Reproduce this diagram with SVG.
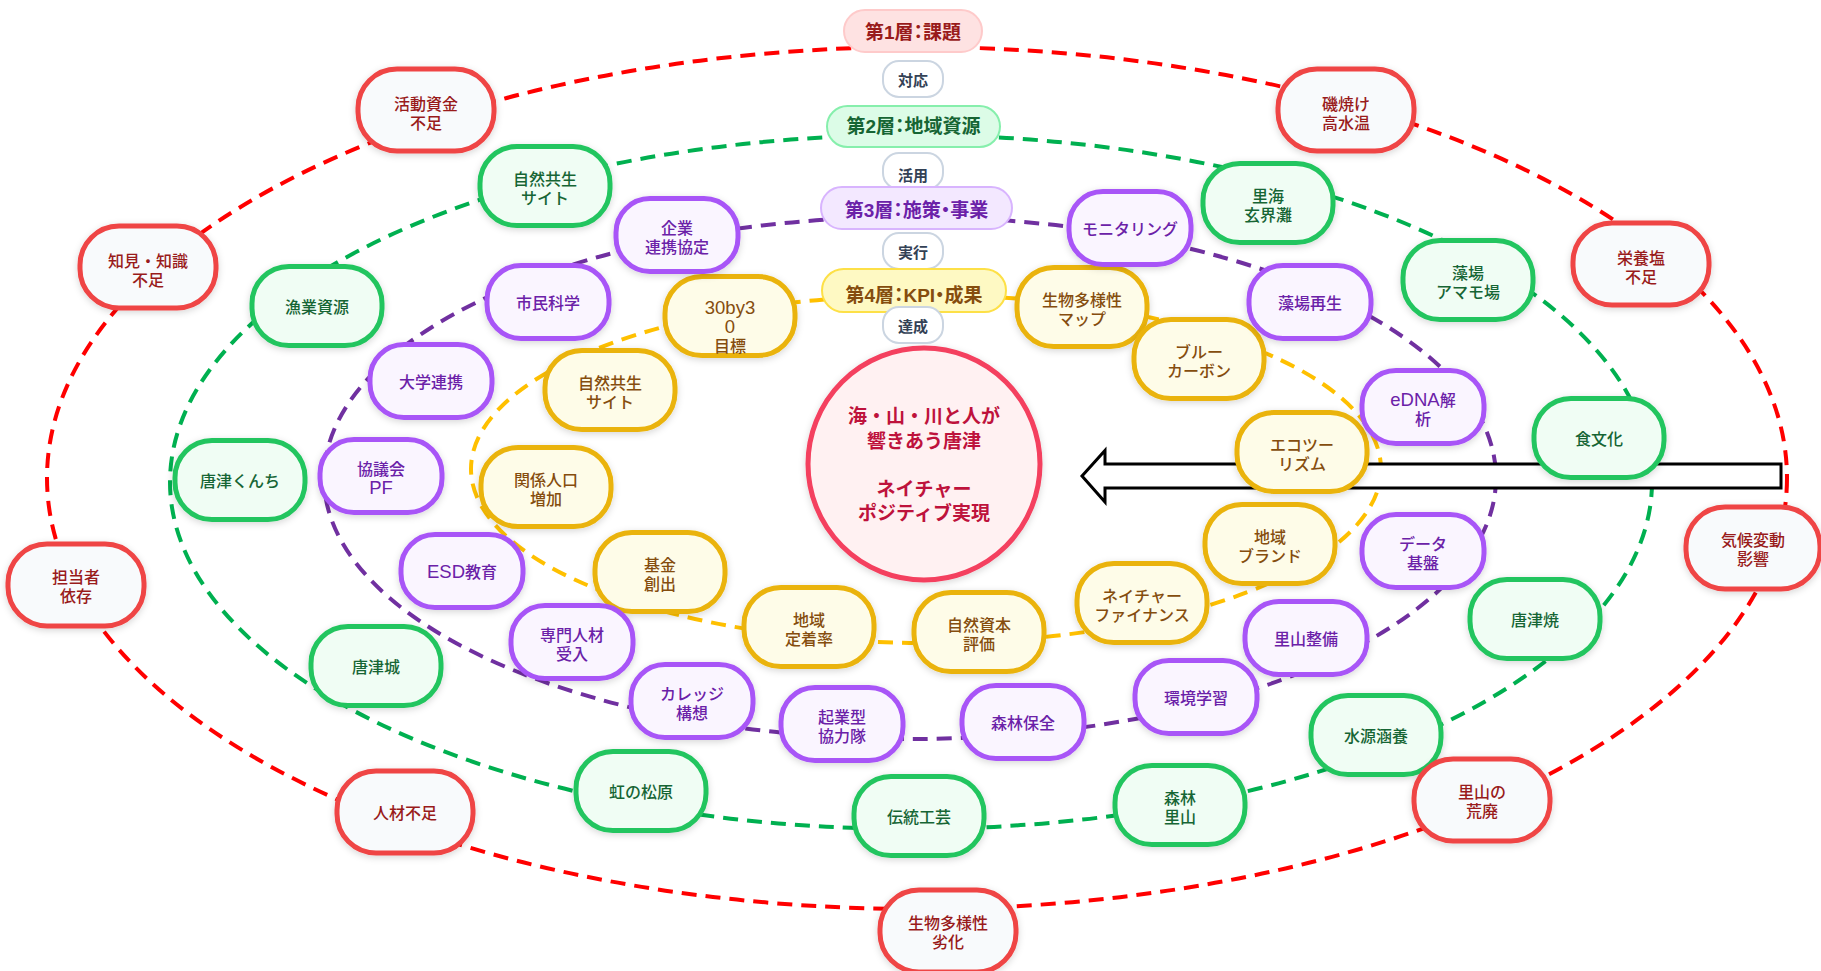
<svg xmlns="http://www.w3.org/2000/svg" width="1821" height="971" viewBox="0 0 1821 971">
<defs>
<filter id="sh" x="-25%" y="-25%" width="150%" height="160%">
<feDropShadow dx="0" dy="2" stdDeviation="3.5" flood-color="#000" flood-opacity="0.16"/>
</filter>
<style>
text{font-family:"Liberation Sans","Noto Sans CJK JP",sans-serif;text-anchor:middle}
.ring{fill:none;stroke-width:4;stroke-dasharray:15 9}
.r1{stroke:#ff0000}.r2{stroke:#00b050}.r3{stroke:#7030a0}.r4{stroke:#ffc000}
.n rect{stroke-width:5;filter:url(#sh)}
.n text{font-size:16px;font-weight:500}
.n .lat{font-size:18.5px}
.red rect{fill:#f8fafc;stroke:#ef4444}.red text{fill:#991b1b}
.grn rect{fill:#f0fdf4;stroke:#22c55e}.grn text{fill:#166534}
.pur rect{fill:#faf5ff;stroke:#a855f7}.pur text{fill:#6b21a8}
.yel rect{fill:#fefce8;stroke:#eab308}.yel text{fill:#854d0e}
.lab rect{stroke-width:2}
.lab text{font-size:19px;font-weight:700;font-feature-settings:"palt"}
.sm rect{fill:#ffffff;stroke:#cbd5e1;stroke-width:2}
.sm text{font-size:15px;font-weight:600;fill:#334155}
</style>
</defs>
<rect width="1821" height="971" fill="#ffffff"/>
<g id="connectors">
<ellipse class="ring r1" cx="917" cy="478" rx="870" ry="431"/>
<ellipse class="ring r2" cx="911" cy="482" rx="741" ry="347"/>
<ellipse class="ring r3" cx="910" cy="478" rx="586" ry="261"/>
<ellipse class="ring r4" cx="926" cy="469" rx="455" ry="174"/>
<polygon id="arrow" points="1082,476 1105,450.5 1105,464 1781,464 1781,488 1105,488 1105,502" fill="#ffffff" stroke="#000000" stroke-width="3"/>
</g>
<g id="layer4">
<g id="y1" class="n yel"><rect x="665" y="276.5" width="130" height="79" rx="37"/><text><tspan class="lat" x="730" y="314">30by3</tspan><tspan class="lat" x="730" y="333">0</tspan><tspan x="730" y="352">目標</tspan></text></g>
<g id="y2" class="n yel"><rect x="1017" y="267.5" width="130" height="79" rx="37"/><text><tspan x="1082" y="305.5">生物多様性</tspan><tspan x="1082" y="324.5">マップ</tspan></text></g>
<g id="y3" class="n yel"><rect x="545" y="350.5" width="130" height="79" rx="37"/><text><tspan x="610" y="388.5">自然共生</tspan><tspan x="610" y="407.5">サイト</tspan></text></g>
<g id="y4" class="n yel"><rect x="1134" y="319.5" width="130" height="79" rx="37"/><text><tspan x="1199" y="357.5">ブルー</tspan><tspan x="1199" y="376.5">カーボン</tspan></text></g>
<g id="y5" class="n yel"><rect x="481" y="447.5" width="130" height="79" rx="37"/><text><tspan x="546" y="485.5">関係人口</tspan><tspan x="546" y="504.5">増加</tspan></text></g>
<g id="y6" class="n yel"><rect x="1237" y="412.5" width="130" height="79" rx="37"/><text><tspan x="1302" y="450.5">エコツー</tspan><tspan x="1302" y="469.5">リズム</tspan></text></g>
<g id="y7" class="n yel"><rect x="1205" y="504.5" width="130" height="79" rx="37"/><text><tspan x="1270" y="542.5">地域</tspan><tspan x="1270" y="561.5">ブランド</tspan></text></g>
<g id="y8" class="n yel"><rect x="595" y="532.5" width="130" height="79" rx="37"/><text><tspan x="660" y="570.5">基金</tspan><tspan x="660" y="589.5">創出</tspan></text></g>
<g id="y9" class="n yel"><rect x="1077" y="563.5" width="130" height="79" rx="37"/><text><tspan x="1142" y="601.5">ネイチャー</tspan><tspan x="1142" y="620.5">ファイナンス</tspan></text></g>
<g id="y10" class="n yel"><rect x="744" y="587.5" width="130" height="79" rx="37"/><text><tspan x="809" y="625.5">地域</tspan><tspan x="809" y="644.5">定着率</tspan></text></g>
<g id="y11" class="n yel"><rect x="914" y="592.5" width="130" height="79" rx="37"/><text><tspan x="979" y="630.5">自然資本</tspan><tspan x="979" y="649.5">評価</tspan></text></g>
</g>
<g id="layer3">
<g id="p1" class="n pur"><rect x="616" y="198.5" width="122" height="73" rx="34"/><text><tspan x="677" y="233.5">企業</tspan><tspan x="677" y="252.5">連携協定</tspan></text></g>
<g id="p2" class="n pur"><rect x="1069" y="191.5" width="122" height="73" rx="34"/><text><tspan x="1130" y="235">モニタリング</tspan></text></g>
<g id="p3" class="n pur"><rect x="487" y="265.5" width="122" height="73" rx="34"/><text><tspan x="548" y="309">市民科学</tspan></text></g>
<g id="p4" class="n pur"><rect x="1249" y="265.5" width="122" height="73" rx="34"/><text><tspan x="1310" y="309">藻場再生</tspan></text></g>
<g id="p5" class="n pur"><rect x="370" y="344.5" width="122" height="73" rx="34"/><text><tspan x="431" y="388">大学連携</tspan></text></g>
<g id="p6" class="n pur"><rect x="1362" y="370.5" width="122" height="73" rx="34"/><text><tspan x="1423" y="405.5"><tspan class="lat">eDNA</tspan>解</tspan><tspan x="1423" y="424.5">析</tspan></text></g>
<g id="p7" class="n pur"><rect x="320" y="439.5" width="122" height="73" rx="34"/><text><tspan x="381" y="474.5">協議会</tspan><tspan class="lat" x="381" y="494">PF</tspan></text></g>
<g id="p8" class="n pur"><rect x="1362" y="514.5" width="122" height="73" rx="34"/><text><tspan x="1423" y="549.5">データ</tspan><tspan x="1423" y="568.5">基盤</tspan></text></g>
<g id="p9" class="n pur"><rect x="401" y="534.5" width="122" height="73" rx="34"/><text><tspan x="462" y="578"><tspan class="lat">ESD</tspan>教育</tspan></text></g>
<g id="p10" class="n pur"><rect x="1245" y="601.5" width="122" height="73" rx="34"/><text><tspan x="1306" y="645">里山整備</tspan></text></g>
<g id="p11" class="n pur"><rect x="511" y="605.5" width="122" height="73" rx="34"/><text><tspan x="572" y="640.5">専門人材</tspan><tspan x="572" y="659.5">受入</tspan></text></g>
<g id="p12" class="n pur"><rect x="1135" y="660.5" width="122" height="73" rx="34"/><text><tspan x="1196" y="704">環境学習</tspan></text></g>
<g id="p13" class="n pur"><rect x="631" y="664.5" width="122" height="73" rx="34"/><text><tspan x="692" y="699.5">カレッジ</tspan><tspan x="692" y="718.5">構想</tspan></text></g>
<g id="p14" class="n pur"><rect x="781" y="687.5" width="122" height="73" rx="34"/><text><tspan x="842" y="722.5">起業型</tspan><tspan x="842" y="741.5">協力隊</tspan></text></g>
<g id="p15" class="n pur"><rect x="962" y="685.5" width="122" height="73" rx="34"/><text><tspan x="1023" y="729">森林保全</tspan></text></g>
</g>
<g id="layer2">
<g id="g1" class="n grn"><rect x="480" y="146.5" width="130" height="79" rx="37"/><text><tspan x="545" y="184.5">自然共生</tspan><tspan x="545" y="203.5">サイト</tspan></text></g>
<g id="g2" class="n grn"><rect x="1203" y="163.5" width="130" height="79" rx="37"/><text><tspan x="1268" y="201.5">里海</tspan><tspan x="1268" y="220.5">玄界灘</tspan></text></g>
<g id="g3" class="n grn"><rect x="252" y="266.5" width="130" height="79" rx="37"/><text><tspan x="317" y="313">漁業資源</tspan></text></g>
<g id="g4" class="n grn"><rect x="1403" y="240.5" width="130" height="79" rx="37"/><text><tspan x="1468" y="278.5">藻場</tspan><tspan x="1468" y="297.5">アマモ場</tspan></text></g>
<g id="g5" class="n grn"><rect x="175" y="440.5" width="130" height="79" rx="37"/><text><tspan x="240" y="487">唐津くんち</tspan></text></g>
<g id="g6" class="n grn"><rect x="1534" y="398.5" width="130" height="79" rx="37"/><text><tspan x="1599" y="445">食文化</tspan></text></g>
<g id="g7" class="n grn"><rect x="311" y="626.5" width="130" height="79" rx="37"/><text><tspan x="376" y="673">唐津城</tspan></text></g>
<g id="g8" class="n grn"><rect x="1470" y="579.5" width="130" height="79" rx="37"/><text><tspan x="1535" y="626">唐津焼</tspan></text></g>
<g id="g9" class="n grn"><rect x="576" y="751.5" width="130" height="79" rx="37"/><text><tspan x="641" y="798">虹の松原</tspan></text></g>
<g id="g10" class="n grn"><rect x="1311" y="695.5" width="130" height="79" rx="37"/><text><tspan x="1376" y="742">水源涵養</tspan></text></g>
<g id="g11" class="n grn"><rect x="854" y="776.5" width="130" height="79" rx="37"/><text><tspan x="919" y="823">伝統工芸</tspan></text></g>
<g id="g12" class="n grn"><rect x="1115" y="765.5" width="130" height="79" rx="37"/><text><tspan x="1180" y="803.5">森林</tspan><tspan x="1180" y="822.5">里山</tspan></text></g>
</g>
<g id="layer1">
<g id="r1" class="n red"><rect x="358" y="69" width="136" height="82" rx="39"/><text><tspan x="426" y="110">活動資金</tspan><tspan x="426" y="129">不足</tspan></text></g>
<g id="r2" class="n red"><rect x="1278" y="69" width="136" height="82" rx="39"/><text><tspan x="1346" y="110">磯焼け</tspan><tspan x="1346" y="129">高水温</tspan></text></g>
<g id="r3" class="n red"><rect x="80" y="226" width="136" height="82" rx="39"/><text><tspan x="148" y="267">知見・知識</tspan><tspan x="148" y="286">不足</tspan></text></g>
<g id="r4" class="n red"><rect x="1573" y="223" width="136" height="82" rx="39"/><text><tspan x="1641" y="264">栄養塩</tspan><tspan x="1641" y="283">不足</tspan></text></g>
<g id="r5" class="n red"><rect x="8" y="544" width="136" height="82" rx="39"/><text><tspan x="76" y="583">担当者</tspan><tspan x="76" y="602">依存</tspan></text></g>
<g id="r6" class="n red"><rect x="1686" y="507" width="134" height="82" rx="39"/><text><tspan x="1753" y="546">気候変動</tspan><tspan x="1753" y="565">影響</tspan></text></g>
<g id="r7" class="n red"><rect x="337" y="771" width="136" height="82" rx="39"/><text><tspan x="405" y="819">人材不足</tspan></text></g>
<g id="r8" class="n red"><rect x="1414" y="759" width="136" height="82" rx="39"/><text><tspan x="1482" y="798">里山の</tspan><tspan x="1482" y="817">荒廃</tspan></text></g>
<g id="r9" class="n red"><rect x="880" y="890" width="136" height="82" rx="39"/><text><tspan x="948" y="929">生物多様性</tspan><tspan x="948" y="948">劣化</tspan></text></g>
</g>
<g id="center">
<circle cx="924" cy="464" r="116" fill="#fff1f2" stroke="#f43f5e" stroke-width="5" filter="url(#sh)"/>
<text style="font-size:19px;font-weight:700;fill:#be123c"><tspan x="924" y="423">海・山・川と人が</tspan><tspan x="924" y="448">響きあう唐津</tspan><tspan x="924" y="496">ネイチャー</tspan><tspan x="924" y="520">ポジティブ実現</tspan></text>
</g>
<g id="labels">
<g id="s1" class="sm"><rect x="883" y="61" width="60" height="36" rx="16"/><text x="913" y="86">対応</text></g>
<g id="L1" class="lab"><rect x="844" y="10" width="138" height="42" rx="21" fill="#fee2e2" stroke="#fecaca"/><text x="913" y="39" fill="#991b1b">第1層：課題</text></g>
<g id="L2" class="lab"><rect x="827" y="106" width="173" height="41" rx="20.5" fill="#dcfce7" stroke="#86efac"/><text x="913.5" y="133" fill="#166534">第2層：地域資源</text></g>
<g id="s2" class="sm"><rect x="883" y="153" width="60" height="36" rx="16"/><text x="913" y="180.5">活用</text></g>
<g id="L3" class="lab"><rect x="821" y="187" width="191" height="42" rx="21" fill="#f3e8ff" stroke="#d8b4fe"/><text x="916.5" y="216.5" fill="#6b21a8">第3層：施策・事業</text></g>
<g id="s3" class="sm"><rect x="883" y="233" width="60" height="36" rx="16"/><text x="913" y="258">実行</text></g>
<g id="L4" class="lab"><rect x="822" y="269" width="184" height="43" rx="21.5" fill="#fef9c3" stroke="#fde047"/><text x="914" y="301.5" fill="#854d0e">第4層：KPI・成果</text></g>
<g id="s4" class="sm"><rect x="883" y="307" width="60" height="36" rx="16"/><text x="913" y="332">達成</text></g>
</g>
</svg>
